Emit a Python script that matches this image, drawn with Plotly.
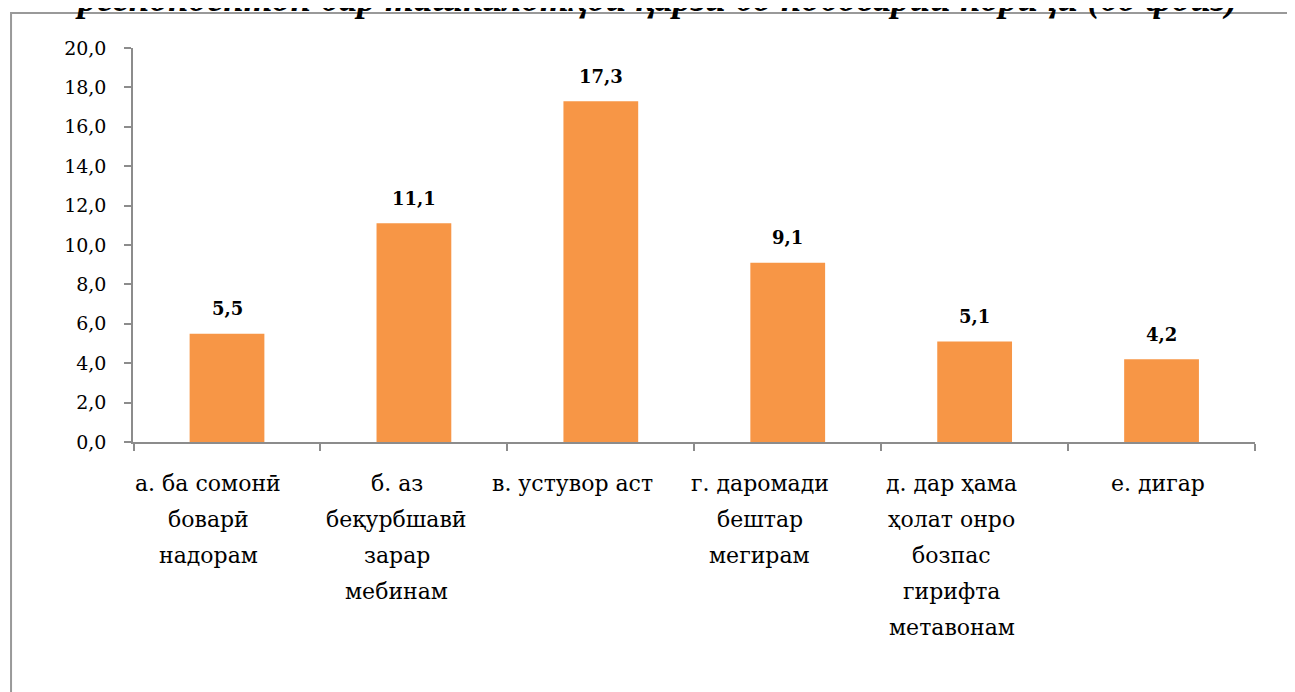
import plotly.graph_objects as go

# ---------------------------------------------------------------------------
# data
# ---------------------------------------------------------------------------
categories = ["а", "б", "в", "г", "д", "е"]
values = [5.5, 11.1, 17.3, 9.1, 5.1, 4.2]
label_lines = [
    ["а. ба сомонӣ", "боварӣ", "надорам"],
    ["б. аз", "беқурбшавӣ", "зарар", "мебинам"],
    ["в. устувор аст"],
    ["г. даромади", "бештар", "мегирам"],
    ["д. дар ҳама", "ҳолат онро", "бозпас", "гирифта", "метавонам"],
    ["е. дигар"],
]
y_ticks = [0, 2, 4, 6, 8, 10, 12, 14, 16, 18, 20]
title_text = "респондентон бар ташкилотҳои қарзи бо нобоварии нориҷи (бо фоиз)"

# styling
BAR_COLOR = "#F79646"
AXIS_COLOR = "#8C8C8C"
FONT = "DejaVu Serif"
TITLE_FONT = "Liberation Serif"
label_xshift = [-19, -17, -28, -28, -23, -4]

fig = go.Figure()

fig.add_trace(
    go.Bar(
        x=categories,
        y=values,
        marker=dict(color=BAR_COLOR, line=dict(width=0)),
        showlegend=False,
        hoverinfo="y",
    )
)

# value labels above bars
for cat, val in zip(categories, values):
    fig.add_annotation(
        x=cat, y=val, xref="x", yref="y",
        text="<b>" + f"{val:.1f}".replace(".", ",") + "</b>",
        showarrow=False, yanchor="middle", yshift=25,
        font=dict(family=FONT, size=18, color="black"),
    )

# wrapped category labels (one annotation per line to get the wide line spacing)
for cat, lines, dx in zip(categories, label_lines, label_xshift):
    for i, line in enumerate(lines):
        fig.add_annotation(
            x=cat, y=0, xref="x", yref="y",
            text=line, showarrow=False,
            yanchor="middle", yshift=-(41 + i * 36), xshift=dx,
            font=dict(family=FONT, size=22, color="black"),
        )

# title, cut off by the top edge as in the source image
fig.add_annotation(
    x=0.467, y=1.0888, xref="paper", yref="paper",
    text="<b><i>" + title_text + "</i></b>",
    showarrow=False, yanchor="bottom", xanchor="center", yshift=-9,
    font=dict(family=TITLE_FONT, size=37, color="black"),
)

# outer chart frame
fig.add_shape(
    type="rect", xref="paper", yref="paper",
    x0=-0.1087, x1=1.2, y0=-1.0, y1=1.0888,
    line=dict(color="#999999", width=2), layer="below",
)

# page body has an 8px margin, so margins are shifted by that much
fig.update_layout(
    width=1295, height=692,
    margin=dict(l=125, r=48, t=40, b=258),
    plot_bgcolor="white", paper_bgcolor="white",
    bargap=0.6,
    separators=", ",
    font=dict(family=FONT, size=19, color="black"),
)

fig.update_xaxes(
    showgrid=False, showline=True, linecolor=AXIS_COLOR, linewidth=1.5,
    ticks="outside", tickson="boundaries", ticklen=7, tickcolor=AXIS_COLOR,
    tickwidth=1.5, showticklabels=False,
)
fig.update_yaxes(
    range=[0, 20], tickvals=y_ticks, tickformat=".1f",
    showgrid=False, zeroline=False, showline=True, linecolor=AXIS_COLOR,
    linewidth=1.5, ticks="outside", ticklen=7, tickcolor=AXIS_COLOR,
    tickwidth=1.5, ticklabelstandoff=14,
    tickfont=dict(family=FONT, size=19, color="black"),
)

fig.write_html("out.html")
